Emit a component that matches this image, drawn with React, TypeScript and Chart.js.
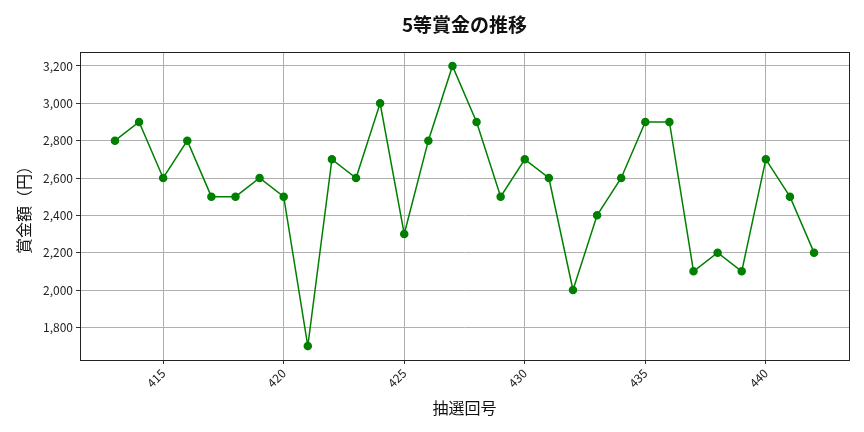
import { useEffect, useRef } from "react";
import { Chart, registerables, Plugin } from "chart.js";

Chart.register(...registerables);

const draws = [
  413, 414, 415, 416, 417, 418, 419, 420, 421, 422, 423, 424, 425, 426, 427,
  428, 429, 430, 431, 432, 433, 434, 435, 436, 437, 438, 439, 440, 441, 442,
];
const prizes = [
  2800, 2900, 2600, 2800, 2500, 2500, 2600, 2500, 1700, 2700, 2600, 3000, 2300,
  2800, 3200, 2900, 2500, 2700, 2600, 2000, 2400, 2600, 2900, 2900, 2100, 2200,
  2100, 2700, 2500, 2200,
];
const xTicks = [415, 420, 425, 430, 435, 440];
const yTicks = [1800, 2000, 2200, 2400, 2600, 2800, 3000, 3200];
const chartTitle = "5等賞金の推移";

const FONT = "'Noto Sans CJK JP', 'Noto Sans', sans-serif";

// box around the plot like matplotlib spines, and title centred on the plot
const frame: Plugin<"line"> = {
  id: "frame",
  afterDraw(chart) {
    const { ctx, chartArea } = chart;
    ctx.save();
    ctx.strokeStyle = "#222";
    ctx.lineWidth = 1;
    ctx.strokeRect(
      chartArea.left + 0.5,
      chartArea.top + 0.5,
      chartArea.right - chartArea.left,
      chartArea.bottom - chartArea.top
    );
    ctx.fillStyle = "#111";
    ctx.font = `bold 19px ${FONT}`;
    ctx.textAlign = "center";
    ctx.textBaseline = "middle";
    ctx.fillText(chartTitle, (chartArea.left + chartArea.right) / 2, 25);
    ctx.restore();
  },
};

export default function App() {
  const canvasRef = useRef<HTMLCanvasElement | null>(null);

  useEffect(() => {
    document.body.style.margin = "0";
    if (!canvasRef.current) return;
    const chart = new Chart(canvasRef.current, {
      type: "line",
      data: {
        datasets: [
          {
            data: draws.map((d, i) => ({ x: d, y: prizes[i] })),
            borderColor: "#008000",
            backgroundColor: "#008000",
            borderWidth: 1.5,
            pointRadius: 3.5,
            pointHoverRadius: 3.5,
            tension: 0,
          },
        ],
      },
      options: {
        animation: false,
        responsive: false,
        layout: { padding: { left: 14, right: 15, top: 52, bottom: 14 } },
        plugins: {
          legend: { display: false },
          tooltip: { enabled: false },
          title: { display: false },
        },
        scales: {
          x: {
            type: "linear",
            min: 411.55,
            max: 443.45,
            afterBuildTicks: (s) => {
              s.ticks = xTicks.map((v) => ({ value: v }));
            },
            afterFit: (s) => {
              s.height = 58;
            },
            grid: { color: "#b0b0b0", tickLength: 4, tickColor: "#333" },
            border: { display: false },
            ticks: {
              maxRotation: 45,
              minRotation: 45,
              color: "#222",
              font: { family: FONT, size: 12 },
              padding: 2,
            },
            title: {
              display: true,
              text: "抽選回号",
              color: "#111",
              font: { family: FONT, size: 16 },
              padding: { top: 0, bottom: 0 },
            },
          },
          y: {
            type: "linear",
            min: 1625,
            max: 3275,
            afterBuildTicks: (s) => {
              s.ticks = yTicks.map((v) => ({ value: v }));
            },
            afterFit: (s) => {
              s.width = 66;
            },
            grid: { color: "#b0b0b0", tickLength: 4, tickColor: "#333" },
            border: { display: false },
            ticks: {
              color: "#222",
              font: { family: FONT, size: 12 },
              padding: 3,
              callback: (v) => Number(v).toLocaleString("en-US"),
            },
            title: {
              display: true,
              text: "賞金額（円）",
              color: "#111",
              font: { family: FONT, size: 16 },
              padding: { top: 0, bottom: 0 },
            },
          },
        },
      },
      plugins: [frame],
    });
    return () => chart.destroy();
  }, []);

  return <canvas ref={canvasRef} width={864} height={432} style={{ display: "block" }} />;
}
